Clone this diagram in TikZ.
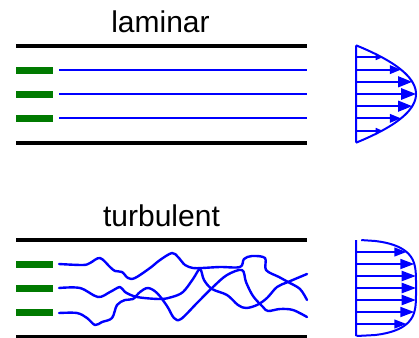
\documentclass[tikz,border=0pt]{standalone}
\usepackage{fontspec}
\setmainfont{Liberation Sans}
\usetikzlibrary{arrows.meta}
\definecolor{fblue}{RGB}{0,0,255}
\definecolor{fgreen}{RGB}{0,122,0}
\tikzset{
  wall/.style={line width=3.2pt, black},
  dye/.style={fill=fgreen, draw=none},
  stream/.style={line width=2pt, fblue},
  eddy/.style={line width=2.4pt, fblue, line join=round, line cap=round},
  prof/.style={line width=2pt, fblue, line join=round},
  title/.style={anchor=base, inner sep=0pt, font=\fontsize{30}{30}\selectfont},
}
\begin{document}
\begin{tikzpicture}[x=1pt,y=-1pt]
\useasboundingbox (0,0) rectangle (419,337);

% ---------- laminar ----------
\node[title] (tlam) at (160.5,32.5) {laminar};
\draw[wall] (16,46) -- (307,46);
\draw[wall] (16,143) -- (307,143);
\foreach \y in {70,94,118} {
  \fill[dye] (16,\y-3.5) rectangle (53,\y+3.5);
  \draw[stream] (59,\y) -- (307,\y);
}
% parabolic profile
\draw[prof] (356,45.3) -- (356,142.7)
  plot[domain=1:-1, samples=81, variable=\t] ({356+60*(1-\t*\t)},{94+48.7*\t});
\foreach \k in {-3,...,3} {
  \pgfmathsetmacro\tt{\k*12.175/48.7}
  \pgfmathsetmacro\L{60*(1-\tt*\tt)}
  \pgfmathsetmacro\hl{0.25*\L}
  \pgfmathsetmacro\hw{0.19*\L}
  \draw[prof,-{Triangle[length=\hl pt,width=\hw pt]}] (356,{94+\k*12.175}) -- ++(\L,0);
}

% ---------- turbulent ----------
\node[title] (ttur) at (161.5,226) {turbulent};
\draw[wall] (16,240) -- (307,240);
\draw[wall] (16,337) -- (307,337);
\foreach \y in {264,288,312} {
  \fill[dye] (16,\y-3.5) rectangle (53,\y+3.5);
}
\draw[eddy] plot[smooth, tension=0.55] coordinates {
  (59,264) (83,265) (90,263) (100,258) (110,267) (115,271) (122,272) (128,278)
  (135,278) (150,268) (160,260) (172,253) (178,257) (185,265) (193,268) (202,268)
  (220,267) (240,267) (244,259) (252,256) (265,258) (266,270) (279,277) (288,282)
  (300,289) (307,300)};
\draw[eddy] plot[smooth, tension=0.55] coordinates {
  (59,288) (80,288) (98,297) (110,292) (120,287) (125,292) (137,297) (160,299)
  (172,297) (183,292) (193,279) (200,269) (204,280) (212,289) (227,295) (238,305)
  (246,308) (257,305) (267,298) (277,287) (288,282) (307,274)};
\draw[eddy] plot[smooth, tension=0.55] coordinates {
  (59,313) (77,313) (87,318) (95,325) (102,322) (112,318) (117,305) (125,300)
  (133,299) (140,292) (148,288) (157,293) (167,306) (174,318) (181,319) (197,303)
  (213,287) (227,275) (242,270) (246,282) (253,296) (263,307) (268,311) (280,309)
  (293,310) (307,317)};
% flattened profile
\draw[prof] (356,240) -- (356,336)
  plot[domain=1:-1, samples=101, variable=\t] ({356+60*(max(1-\t*\t*\t*\t,0.00001))^0.45},{288+48*\t});
\foreach \k in {-3,...,3} {
  \pgfmathsetmacro\tt{\k/4}
  \pgfmathsetmacro\L{60*(1-\tt*\tt*\tt*\tt)^0.45}
  \pgfmathsetmacro\hl{0.24*\L}
  \pgfmathsetmacro\hw{0.17*\L}
  \draw[prof,-{Triangle[length=\hl pt,width=\hw pt]}] (356,{288+\k*12}) -- ++(\L,0);
}
\end{tikzpicture}
\end{document}
